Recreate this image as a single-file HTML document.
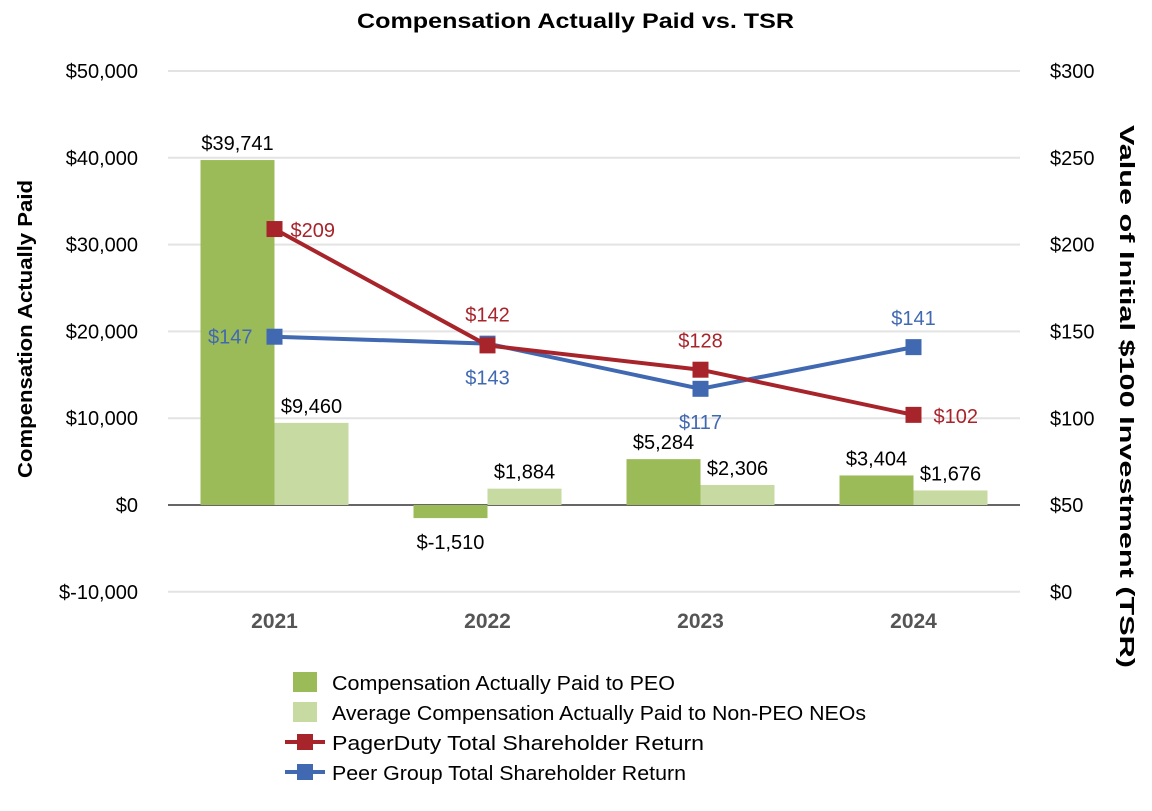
<!DOCTYPE html>
<html><head><meta charset="utf-8"><style>
body{margin:0;background:#fff;font-family:"Liberation Sans",Arial,sans-serif}
svg text{font-family:"Liberation Sans",Arial,sans-serif}
</style></head><body>
<svg id="chart" width="1152" height="806" xmlns="http://www.w3.org/2000/svg">
<text x="357" y="28" textLength="437" lengthAdjust="spacingAndGlyphs" font-size="21" font-weight="bold">Compensation Actually Paid vs. TSR</text>
<g id="grid"></g><g id="bars"></g><g id="lines"></g><g id="axes"></g>
<text transform="translate(32,478) rotate(-90)" textLength="298" lengthAdjust="spacingAndGlyphs" font-size="20" font-weight="bold">Compensation Actually Paid</text>
<text transform="translate(1120,125) rotate(90)" textLength="543" lengthAdjust="spacingAndGlyphs" font-size="20" font-weight="bold">Value of Initial $100 Investment (TSR)</text>
<g font-size="20">
<rect x="293" y="672" width="24" height="20" fill="#9bbb59"/>
<text x="332" y="690" textLength="343" lengthAdjust="spacingAndGlyphs">Compensation Actually Paid to PEO</text>
<rect x="293" y="702" width="24" height="20" fill="#c7daa2"/>
<text x="332" y="720" textLength="534" lengthAdjust="spacingAndGlyphs">Average Compensation Actually Paid to Non-PEO NEOs</text>
<line x1="285" y1="742" x2="325" y2="742" stroke="#a8242b" stroke-width="4"/>
<rect x="297" y="734" width="16" height="16" fill="#a8242b"/>
<text x="332" y="750" textLength="372" lengthAdjust="spacingAndGlyphs">PagerDuty Total Shareholder Return</text>
<line x1="285" y1="772" x2="325" y2="772" stroke="#4169b1" stroke-width="4"/>
<rect x="297" y="764" width="16" height="16" fill="#4169b1"/>
<text x="332" y="780" textLength="354" lengthAdjust="spacingAndGlyphs">Peer Group Total Shareholder Return</text>
</g>
</svg>
<script>
const categories=["2021","2022","2023","2024"];
const peoValues=[39741,-1510,5284,3404];
const neoValues=[9460,1884,2306,1676];
const pagerdutyTSR=[209,142,128,102];
const peerTSR=[147,143,117,141];
const leftTicks=[-10000,0,10000,20000,30000,40000,50000];
const rightTicks=[0,50,100,150,200,250,300];

const NS="http://www.w3.org/2000/svg";
const X0=168,X1=1020,band=(X1-X0)/categories.length;
const yL=v=>505-v*(434/50000);
const yR=v=>592-v*(521/300);
const xC=i=>X0+band*(i+0.5);
function mk(tag,attrs,parent,txt){const e=document.createElementNS(NS,tag);for(const k in attrs)e.setAttribute(k,attrs[k]);if(txt!=null)e.textContent=txt;document.getElementById(parent).appendChild(e);return e;}
const fmt=v=>"$"+(v<0?"-":"")+Math.abs(v).toLocaleString("en-US");

leftTicks.forEach((t,i)=>{
 const l=mk("line",{x1:X0,x2:X1,y1:yL(t),y2:yL(t),stroke:t===0?"#666":"#e3e3e3","stroke-width":2},"grid");
 
 
 const tx=mk("text",{x:138,y:yL(t)+7,"text-anchor":"end","font-size":20},"axes",fmt(t));
 
 
});
rightTicks.forEach(t=>{
 const tx=mk("text",{x:1050,y:yR(t)+7,"font-size":20},"axes","$"+t);
 
 
});
categories.forEach((c,i)=>{
 const tx=mk("text",{x:xC(i),y:628,"text-anchor":"middle","font-size":21,"font-weight":"bold",fill:"#555"},"axes",c);
 
 
 const bw=74;
 [[peoValues[i],"#9bbb59",xC(i)-bw,'bar-peo'],[neoValues[i],"#c7daa2",xC(i),'bar-neo']].forEach(([v,col,x,nm])=>{
  const y=Math.min(yL(v),yL(0)),h=Math.abs(yL(v)-yL(0));
  const r=mk("rect",{x:x,y:y,width:bw,height:h,fill:col},"bars");
  
  
  const ly=v<0?yL(v)+31:yL(v)-10;
  const t=mk("text",{x:x+bw/2,y:ly,"text-anchor":"middle","font-size":20},"bars",fmt(v));
  
  
 });
});
function series(vals,col,nm,labelPos){
 const pts=vals.map((v,i)=>xC(i)+","+yR(v)).join(" ");
 const p=mk("polyline",{points:pts,fill:"none",stroke:col,"stroke-width":4},"lines");
 
 
 vals.forEach((v,i)=>{
  const m=mk("rect",{x:xC(i)-8,y:yR(v)-8,width:16,height:16,fill:col},"lines");
  
  
  const [dx,dy,anc]=labelPos[i];
  const t=mk("text",{x:xC(i)+dx,y:yR(v)+dy,"text-anchor":anc,"font-size":20,fill:col},"lines","$"+v);
  
  
 });
}
series(peerTSR,"#4169b1","peer",[[-22,7,"end"],[0,41,"middle"],[0,40,"middle"],[0,-22,"middle"]]);
series(pagerdutyTSR,"#a8242b","pagerduty",[[16,8,"start"],[0,-24,"middle"],[0,-22,"middle"],[20,8,"start"]]);
</script>
</body></html>
